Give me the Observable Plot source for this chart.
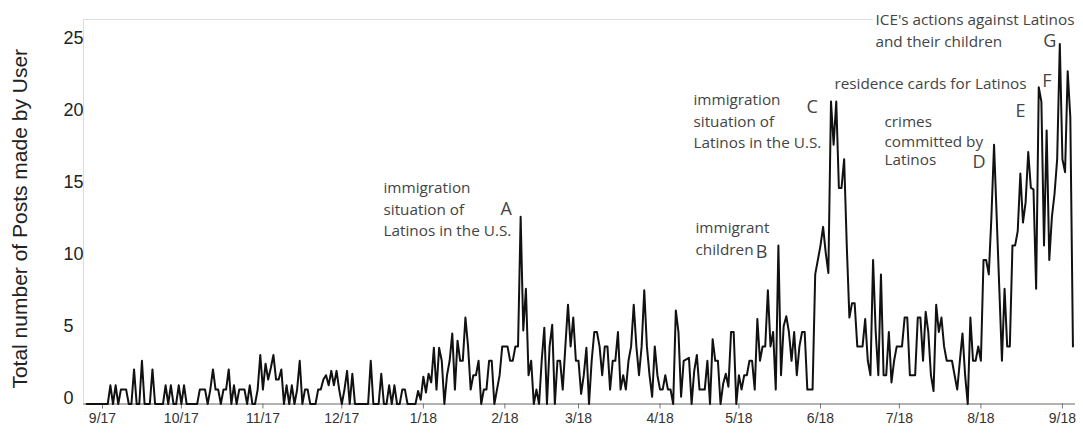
<!DOCTYPE html>
<html>
<head>
<meta charset="utf-8">
<script src="https://cdn.jsdelivr.net/npm/d3@7"></script>
<script src="https://cdn.jsdelivr.net/npm/@observablehq/plot@0.6"></script>
<style>
  html, body { margin: 0; padding: 0; background: #ffffff; }
  #chart { width: 1083px; height: 434px; }
</style>
</head>
<body>
<div id="chart"></div>
<script>
// ---- data: daily post counts, starting 2017-08-26 ----
const startDate = "2017-08-26";
const postsAugOct2017 = [0,0,0,0,0,0,0,0,0,
  1.3,0,1.3,0,1,1,1,0,0,2.4,
  0,0,3,0,0,0,2.4,0,0,0,
  0,1.3,0,1.3,0,0,1.3,0,1.3,0,
  0,0,0,0,1,1,1,0,1,2.4,
  1,1,0,1,1,2.4,0,1.3,0,1,
  1,1,0,1.3,0,0];
const postsOctDec2017 = [1,3.4,1,2.8,1.7,2.5,3.4,1.7,1.7,2.4,
  0,1.3,0,1.3,0,1,3,0,1,1,
  0,0,0,1,1,1.7,2,1.3,2.3,1.3,
  2.3,1,0,1,2.3,0,2.1,0,0,0,
  0,0,0,3,0,0,0,2.1,0,0,
  1.3,0,1.3,0,0,1,1,0,0,0];
const postsDec2017Feb2018 = [0,0.9,0.3,1.9,0.8,2.1,1.5,3.9,1,3.9,
  3,0,2,3,4.9,1,4.4,3,3,6,
  4,1,2,2,3,0,1,1,3,3,
  0,1,2,4,4,4,3,3,4,4,
  13,5.1,8,2,3,0,1,0,3,5.3,
  0,4,5.5,0,3,3,1,4,6.9,4,
  6,3];
const postsMarApr2018 = [3,0.7,2,3.9,0,3,5,5,4,2,
  4,4,1,3,3,5,1,2,1,3,
  4,6.9,4,2,4,7.9,4,2,0.5,4,
  2,1,1,2,1,1,0,6.5,5,0.5,
  3,3.1,3.2,0,2.3,3.4,1,1,1,3,
  0,4.5,3,3,0,1.4,2.1,1.2,5,5];
const postsMayJun2018 = [0,2,1,2,2,3,3,1,5.9,3,
  4,4,7.9,4,5,1,11,2,5.4,6.1,
  5,3,5,2,4,5,5,1,1,1,
  9,10,11,12.3,10.5,9.1,21,18,21,15,
  15,17,11,6,7,7,4,4,4,5.9,
  3,2,10,5,2,9,2,2,5,1.5];
const postsJulSep2018 = [3,4,4,4,6,6,2,2,2,6,
  6,3,6.4,5,2,0.9,6.9,5,6,4,
  3,3,3,2,1,3,4.9,2,0,6,
  3,3,4,3,10,10,9,13,18,13,
  8,3,8,4,4,11,11,12,16,12.6,
  14,17.5,15,14.9,8,22,21,11,19,10,
  13,14.6,17,25,17,16.1,23.1,19.9,4];

const yTicks = [0, 5, 10, 15, 20, 25];
const yTitle = "Total number of Posts made by User";

// annotation texts (day offset from startDate, value)
const noteTexts = ["immigration", "situation of", "Latinos in the U.S.",
  "immigrant", "children",
  "immigration", "situation of", "Latinos in the U.S.",
  "crimes", "committed by", "Latinos",
  "residence cards for Latinos",
  "ICE's actions against Latinos", "and their children"];
const noteDays = [112.85, 112.85, 112.85, 231.48, 231.48, 230.72, 230.72, 230.72,
  303.35, 303.35, 303.35, 284.30, 299.92, 299.92];
const noteValues = [14.97, 13.44, 11.98, 12.19, 10.66, 21.08, 19.55, 18.09,
  19.55, 18.16, 16.91, 22.19, 26.63, 25.10];
const letterTexts = ["A", "B", "C", "D", "E", "F", "G"];
const letterDays = [157.34, 254.4, 273.69, 336.81, 353.16, 363.35, 363.73];
const letterValues = [13.49, 10.52, 20.58, 16.80, 20.30, 22.38, 25.16];

// ---- build ----
const DAY = 864e5;
const t0 = Date.parse(startDate + "T00:00:00Z");
const dayToDate = d => new Date(t0 + d * DAY);
const posts = [].concat(postsAugOct2017, postsOctDec2017, postsDec2017Feb2018,
  postsMarApr2018, postsMayJun2018, postsJulSep2018);
const series = posts.map((v, i) => ({date: dayToDate(i), value: v}));
const notes = noteTexts.map((t, i) => ({text: t, date: dayToDate(noteDays[i]), value: noteValues[i]}));
const letters = letterTexts.map((t, i) => ({text: t, date: dayToDate(letterDays[i]), value: letterValues[i]}));

const xDomain = [dayToDate(-1.22), dayToDate(375.97)];
const yTop = 26.7;
const monthTicks = d3.utcMonths(new Date(Date.UTC(2017, 8, 1)), new Date(Date.UTC(2018, 8, 2)));

const chart = Plot.plot({
  width: 1083,
  height: 434,
  marginLeft: 83,
  marginRight: 8,
  marginTop: 19,
  marginBottom: 30.5,
  style: {background: "#ffffff", fontFamily: "'Liberation Sans', Arial, sans-serif", overflow: "visible"},
  x: {type: "utc", domain: xDomain},
  y: {domain: [0, yTop]},
  marks: [
    Plot.ruleX([xDomain[0]], {y1: 0, y2: yTop, stroke: "#dddddd", strokeWidth: 1}),
    Plot.ruleY([yTop], {x1: xDomain[0], x2: dayToDate(299.2), stroke: "#dddddd", strokeWidth: 1}),
    Plot.axisY({ticks: yTicks, tickSize: 0, tickPadding: 3, textAnchor: "start", dx: -17, dy: -6,
      fontSize: 18, fill: "#222", label: null}),
    Plot.axisX({ticks: monthTicks, tickFormat: d3.utcFormat("%-m/%y"), tickSize: 5, tickPadding: 4,
      fontSize: 14, fill: "#333", stroke: "#777", label: null}),
    Plot.ruleY([0], {stroke: "#666", strokeWidth: 1}),
    Plot.line(series, {x: "date", y: "value", stroke: "#111", strokeWidth: 2}),
    Plot.text([yTitle], {frameAnchor: "left", textAnchor: "middle", rotate: -90, dx: -63, dy: 7,
      fontSize: 21, fill: "#222"}),
    Plot.text(notes, {x: "date", y: "value", text: "text", textAnchor: "start",
      fontFamily: "'Open Sans', sans-serif", fontSize: 15.3, fill: "#444"}),
    Plot.text(letters, {x: "date", y: "value", text: "text", textAnchor: "start",
      fontFamily: "'Open Sans', sans-serif", fontSize: 18, fill: "#444"})
  ]
});
document.getElementById("chart").appendChild(chart);
</script>
</body>
</html>
